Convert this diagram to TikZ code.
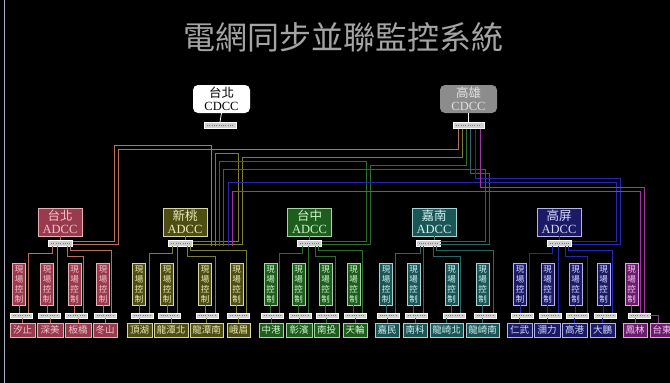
\documentclass[tikz,border=0pt]{standalone}
\usepackage{fontspec}
\setmainfont{Liberation Serif}
\newfontfamily\cjk{Noto Sans CJK TC}
\definecolor{Rf}{HTML}{9A3A4E}\definecolor{Rd}{HTML}{E6B0B8}\definecolor{Rt}{HTML}{F2C4CA}\definecolor{Rw}{HTML}{B8705C}
\definecolor{Of}{HTML}{4E4E12}\definecolor{Od}{HTML}{D6D6A6}\definecolor{Ot}{HTML}{EAEABC}\definecolor{Ow}{HTML}{7C7C34}
\definecolor{Gf}{HTML}{1D5E1D}\definecolor{Gd}{HTML}{A6D6A6}\definecolor{Gt}{HTML}{D0F2D0}\definecolor{Gw}{HTML}{2C6C2C}
\definecolor{Tf}{HTML}{1B5656}\definecolor{Td}{HTML}{A6D4D4}\definecolor{Tt}{HTML}{D0F0F0}\definecolor{Tw}{HTML}{2A6666}
\definecolor{Bf}{HTML}{1A1A66}\definecolor{Bd}{HTML}{B4B4E6}\definecolor{Bt}{HTML}{D8D8FF}\definecolor{Bw}{HTML}{2626B4}
\definecolor{Pf}{HTML}{6C1E6C}\definecolor{Pd}{HTML}{E0A6E0}\definecolor{Pt}{HTML}{F4C4F4}\definecolor{Pw}{HTML}{A034A0}
\definecolor{titlec}{HTML}{A4A4A4}
\definecolor{portc}{HTML}{D0D0D0}
\definecolor{dotc}{HTML}{7A7A7A}
\definecolor{edgec}{HTML}{A8B8C8}
\definecolor{kgray}{HTML}{8C8C8C}
\tikzset{
  every node/.style={inner sep=0pt, outer sep=0pt},
  cdcc/.style={rounded corners=5pt, minimum width=57, minimum height=28, align=center, font=\fontsize{12.5}{13.5}\selectfont},
  adcc/.style={draw, line width=1pt, minimum width=44, minimum height=28, align=center, font=\fontsize{12.5}{13.5}\selectfont},
  ctrl/.style={draw, line width=0.8pt, minimum width=13, minimum height=42, align=center, font=\cjk\fontsize{8.5}{10}\selectfont},
  stn/.style={draw, line width=0.8pt, minimum height=14, font=\cjk\fontsize{9.5}{10}\selectfont},
  port/.style={fill=portc, draw=white, line width=0.5pt, minimum width=22, minimum height=5},
  dots/.style={draw=dotc, line width=1pt, dash pattern=on 0.9pt off 1.4pt},
  wire/.style={line width=0.8pt},
  rR/.style={draw=Rd, fill=Rf, text=Rt}, wR/.style={wire, draw=Rw},
  rO/.style={draw=Od, fill=Of, text=Ot}, wO/.style={wire, draw=Ow},
  rG/.style={draw=Gd, fill=Gf, text=Gt}, wG/.style={wire, draw=Gw},
  rT/.style={draw=Td, fill=Tf, text=Tt}, wT/.style={wire, draw=Tw},
  rB/.style={draw=Bd, fill=Bf, text=Bt}, wB/.style={wire, draw=Bw},
  rP/.style={draw=Pd, fill=Pf, text=Pt}, wP/.style={wire, draw=Pw},
}
\begin{document}
\begin{tikzpicture}[x=1pt,y=-1pt]
\useasboundingbox (0,0) rectangle (670,383);
\fill[black] (0,0) rectangle (670,383);
\draw[edgec, line width=1.2pt] (4.5,0) -- (4.5,383);

\node[font=\cjk\fontsize{32}{34}\selectfont, text=titlec] (title) at (343,37) {電網同步並聯監控系統};

% CDCC
\node[cdcc, fill=white, text=black] (cT) at (221.5,99) {{\cjk 台北}\\CDCC};
\node[port, minimum width=32, minimum height=6] (pT) at (220,125) {};
\draw[dots] ([xshift=3pt]pT.west) -- ([xshift=-3pt]pT.east);
\draw[white, line width=0.8pt] (cT.south) -- (pT.north);
\node[cdcc, fill=kgray, text=white!88!black] (cK) at (468.5,99) {{\cjk 高雄}\\CDCC};
\node[port, minimum width=31, minimum height=6] (pK) at (468.5,125.5) {};
\draw[dots] ([xshift=3pt]pK.west) -- ([xshift=-3pt]pK.east);
\draw[white, line width=0.8pt] (cK.south) -- (pK.north);

% ADCC boxes and their ports
\foreach \r/\ax/\px/\nm in {R/60/60.5/台北, O/185/180.5/新桃, G/309.5/309.5/台中, T/434/428/嘉南, B/559/559.5/高屏}{
  \node[adcc, r\r] (a\r) at (\ax,222) {{\cjk \nm}\\ADCC};
  \node[port, minimum width=24, minimum height=6] (p\r) at (\px,243) {};
  \draw[dots] ([xshift=2.5pt]p\r.west) -- ([xshift=-2.5pt]p\r.east);
  \draw[w\r] (a\r.south) -- (a\r.south |- p\r.north);
}

% columns: region/index/ctrl x/port x/station x/station width/name
\foreach \r/\i/\cx/\qx/\sx/\sw/\nm in {
  R/1/19/21.5/22.5/25/汐止, R/2/47/49/50/26/深美, R/3/74.5/76.5/78/26/板橋, R/4/103/105/105/24/冬山,
  O/1/139/142/139.5/25/頂湖, O/2/167/169/171/34/龍潭北, O/3/205/207/206.5/33/龍潭南, O/4/236.5/238.5/238.5/23/峨眉,
  G/1/270.5/272.5/271/24/中港, G/2/298.5/300/299/26/彰濱, G/3/325.5/327.5/326.5/25/南投, G/4/353.5/355.5/355/24/天輪,
  T/1/386/388/387/24/嘉民, T/2/413.5/416.5/415/24/南科, T/3/451.5/454/446.5/33/龍崎北, T/4/482.5/485/482.5/33/龍崎南,
  B/1/520/522.5/519.5/25/仁武, B/2/547.5/550/547/26/瀰力, B/3/575.5/577.5/574.5/25/高港, B/4/603.5/605/602.5/25/大鵬,
  P/1/631.5/639/635/24/鳳林}{
  \node[ctrl, r\r] (c\r\i) at (\cx,284) {現\\場\\控\\制};
  \node[port] (q\r\i) at (\qx,315.5) {};
  \draw[dots] ([xshift=2.5pt]q\r\i.west) -- ([xshift=-2.5pt]q\r\i.east);
  \node[stn, r\r, minimum width=\sw] (s\r\i) at (\sx,330) {\nm};
  \draw[w\r] (c\r\i.south) -- (c\r\i.south |- q\r\i.north);
  \draw[w\r] (q\r\i.south -| s\r\i.north) -- (s\r\i.north);
}
\node[stn, rP, minimum width=24] (sP2) at (662,330) {台東};
\draw[wP] (qP1.east) -- (658,315.5) -- (658,0 |- sP2.north);

% ADCC port -> column lines
\foreach \r/\ea/\xa/\eb/\ec/\xc/\ed/\xd in {
  R/52/28/57/67/83/70/111,
  O/172/149/177/187/215/190/246,
  G/302/279/308/315/335/318/362,
  T/420/395/423/433/460/436/493,
  B/552/529/558/565/587/568/612}{
  \draw[w\r] (p\r.south -| \ea,0) -- (\ea,253) -- (\xa,253) -- (\xa,0 |- q\r1.north);
  \draw[w\r] (p\r.south -| \eb,0) -- (\eb,0 |- q\r2.north);
  \draw[w\r] (p\r.south -| \ec,0) -- (\ec,256) -- (\xc,256) -- (\xc,0 |- q\r3.north);
  \draw[w\r] (p\r.south -| \ed,0) -- (\ed,250) -- (\xd,250) -- (\xd,0 |- q\r4.north);
}

% CDCC -> ADCC lines
\foreach \r/\te/\ty/\tx/\ke/\ky/\kx in {
  R/211/145/114/458/149/118,
  O/215/153/238/462/157/242,
  G/219/161/366/466/165/370,
  T/223/169/485/470/173/489,
  B/228/182/616/475/178/620}{
  \draw[w\r] (pT.south -| \te,0) -- (\te,\ty) -- (\tx,\ty) -- (\tx,241.5) -- (p\r.east |- 0,241.5);
  \draw[w\r] (pK.south -| \ke,0) -- (\ke,\ky) -- (\kx,\ky) -- (\kx,244.5) -- (p\r.east |- 0,244.5);
}
\draw[wP] (pT.south -| 232,0) -- (232,191) -- (640,191) -- (640,0 |- qP1.north);
\draw[wP] (pK.south -| 480,0) -- (480,187) -- (644,187) -- (644,0 |- qP1.north);
\end{tikzpicture}
\end{document}
